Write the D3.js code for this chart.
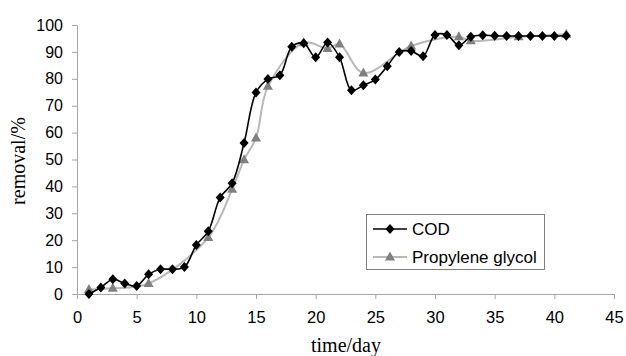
<!DOCTYPE html>
<html>
<head>
<meta charset="utf-8">
<script src="https://cdn.jsdelivr.net/npm/d3@7"></script>
<style>
  body { margin: 0; background: #fff; }
</style>
</head>
<body>
<div id="chart"></div>
<script>
// Datos
// =====
var codDays = [1,2,3,4,5,6,7,8,9,10,11,12,13,14,15,16,17,18,19,20,21,22,23,24,25,26,27,28,29,30,31,32,33,34,35,36,37,38,39,40,41];
var codValues = [0,2.4,5.5,3.9,3.0,7.3,9.2,9.2,10,18.2,23.3,35.9,41.2,56.1,74.9,79.9,81.3,91.9,93.2,88,93.5,88,75.7,77.6,79.7,84.7,90,90.3,88.4,96.3,96.3,92.5,95.6,96.2,96,95.9,95.9,95.9,95.9,95.9,96];

var pgDays = [1,3,6,11,13,14,15,16,19,21,22,24,28,32,33,37,41];
var pgValues = [1.7,2.1,3.9,21,38.9,49.9,58,77.2,93.4,91.3,92.9,82.2,92.2,95.6,94.1,95.6,96.6];

var xTicks = [0,5,10,15,20,25,30,35,40,45];
var yTicks = [0,10,20,30,40,50,60,70,80,90,100];

var cod = codDays.map(function(d, i) { return { day: d, value: codValues[i] }; });
var pg = pgDays.map(function(d, i) { return { day: d, value: pgValues[i] }; });

// Dimensiones
// ===========
var W = 626, H = 356;
var svg = d3.select("#chart").append("svg")
  .attr("width", W).attr("height", H);

var x = d3.scaleLinear().domain([0, 45]).range([77, 614]);
var y = d3.scaleLinear().domain([0, 100]).range([294, 25]);

var axisColor = "#a6a6a6";

// Eje Y
var gy = svg.append("g")
  .attr("transform", "translate(77,0)")
  .call(d3.axisLeft(y).tickValues(yTicks).tickSize(5).tickPadding(9));
gy.select(".domain").attr("stroke", axisColor);
gy.selectAll(".tick line").attr("stroke", axisColor);
gy.selectAll(".tick text")
  .attr("font-family", "Liberation Sans, Arial, sans-serif")
  .attr("font-size", 16).attr("fill", "#000");

// Eje X
var gx = svg.append("g")
  .attr("transform", "translate(0,294)")
  .call(d3.axisBottom(x).tickValues(xTicks).tickSize(5).tickPadding(12));
gx.select(".domain").attr("stroke", axisColor);
gx.selectAll(".tick line").attr("stroke", axisColor);
gx.selectAll(".tick text")
  .attr("font-family", "Liberation Sans, Arial, sans-serif")
  .attr("font-size", 16.5).attr("fill", "#000");

// Titulos
svg.append("text")
  .attr("text-anchor", "middle")
  .attr("x", 346).attr("y", 352)
  .attr("font-family", "Liberation Serif, Times New Roman, serif")
  .attr("font-size", 20)
  .text("time/day");

svg.append("text")
  .attr("text-anchor", "middle")
  .attr("transform", "translate(25,161) rotate(-90)")
  .attr("font-family", "Liberation Serif, Times New Roman, serif")
  .attr("font-size", 20)
  .text("removal/%");

// Lineas
var line = d3.line()
  .x(function(d) { return x(d.day); })
  .y(function(d) { return y(d.value); })
  .curve(d3.curveCatmullRom.alpha(0.5));

svg.append("path").datum(pg)
  .attr("fill", "none").attr("stroke", "#b8b8b8").attr("stroke-width", 2)
  .attr("d", line);

var triPath = "M0,-5.5L5,3.5L-5,3.5Z";
var diaPath = "M0,-5L4.5,0L0,5L-4.5,0Z";

svg.append("g").selectAll("path").data(pg).enter().append("path")
  .attr("d", triPath)
  .attr("transform", function(d) { return "translate(" + x(d.day) + "," + y(d.value) + ")"; })
  .attr("fill", "#808080");

svg.append("path").datum(cod)
  .attr("fill", "none").attr("stroke", "#000").attr("stroke-width", 1.6)
  .attr("d", line);

svg.append("g").selectAll("path").data(cod).enter().append("path")
  .attr("d", diaPath)
  .attr("transform", function(d) { return "translate(" + x(d.day) + "," + y(d.value) + ")"; })
  .attr("fill", "#000");

// Leyenda
var leg = svg.append("g");
leg.append("rect")
  .attr("x", 366.5).attr("y", 214.5).attr("width", 178).attr("height", 55)
  .attr("fill", "#fff").attr("stroke", "#808080").attr("stroke-width", 1);

var items = [
  { name: "COD", stroke: "#000", sw: 1.6, mark: diaPath, fill: "#000", yy: 229 },
  { name: "Propylene glycol", stroke: "#b8b8b8", sw: 2, mark: triPath, fill: "#808080", yy: 257 }
];
items.forEach(function(it) {
  leg.append("line")
    .attr("x1", 373).attr("x2", 407).attr("y1", it.yy).attr("y2", it.yy)
    .attr("stroke", it.stroke).attr("stroke-width", it.sw);
  leg.append("path")
    .attr("d", it.mark)
    .attr("transform", "translate(390," + it.yy + ")")
    .attr("fill", it.fill);
  leg.append("text")
    .attr("x", 412).attr("y", it.yy + 6)
    .attr("font-family", "Liberation Sans, Arial, sans-serif")
    .attr("font-size", 17)
    .text(it.name);
});
</script>
</body>
</html>
